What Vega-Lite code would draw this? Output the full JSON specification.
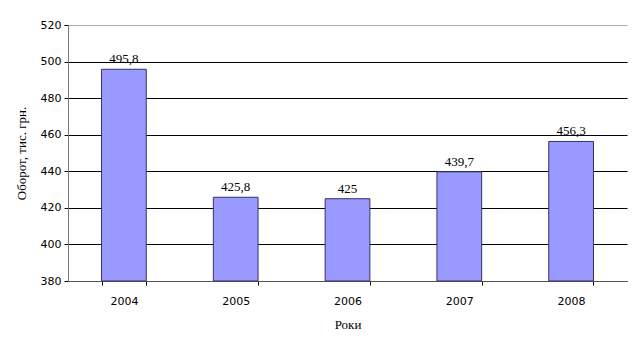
{
  "$schema": "https://vega.github.io/schema/vega-lite/v6.json",
  "autosize": "none",
  "width": 559,
  "height": 256,
  "padding": {"left": 68, "top": 25, "right": 17, "bottom": 72},
  "background": "white",
  "data": {"values": [
    {"year": "2004", "value": 495.8, "label": "495,8"},
    {"year": "2005", "value": 425.8, "label": "425,8"},
    {"year": "2006", "value": 425, "label": "425"},
    {"year": "2007", "value": 439.7, "label": "439,7"},
    {"year": "2008", "value": 456.3, "label": "456,3"}
  ]},
  "config": {
    "view": {"stroke": null},
    "axis": {"domainColor": "#000", "tickColor": "#000", "labelColor": "#000", "titleColor": "#000", "labelFont": "DejaVu Sans", "labelFontSize": 11, "titleFont": "Liberation Serif", "titleFontSize": 13, "titleFontWeight": "normal"}
  },
  "encoding": {
    "x": {"field": "year", "type": "ordinal", "scale": {"paddingInner": 0.6, "paddingOuter": 0.3},
      "axis": {"title": "Роки", "labelAngle": 0, "tickBand": "extent", "tickSize": 4, "labelPadding": 10, "titlePadding": 12, "grid": false, "domainColor": "#555"}},
    "y": {"field": "value", "type": "quantitative", "scale": {"domain": [380, 520], "zero": false, "nice": false},
      "axis": {"title": "Оборот, тис. грн.", "values": [380, 400, 420, 440, 460, 480, 500, 520], "tickSize": 4, "labelPadding": 3, "titlePadding": 12, "domainColor": "#777", "grid": true, "gridColor": {"condition": {"test": "datum.value == 520", "value": "#aaaaaa"}, "value": "#000000"}, "gridWidth": 1}}
  },
  "layer": [
    {"mark": {"type": "bar", "fill": "#9999FF", "stroke": "#333366", "strokeWidth": 1}, "encoding": {"y2": {"datum": 380}}},
    {"mark": {"type": "text", "dy": -10, "font": "Liberation Serif", "fontSize": 13, "color": "#000"}, "encoding": {"text": {"field": "label"}}}
  ]
}
